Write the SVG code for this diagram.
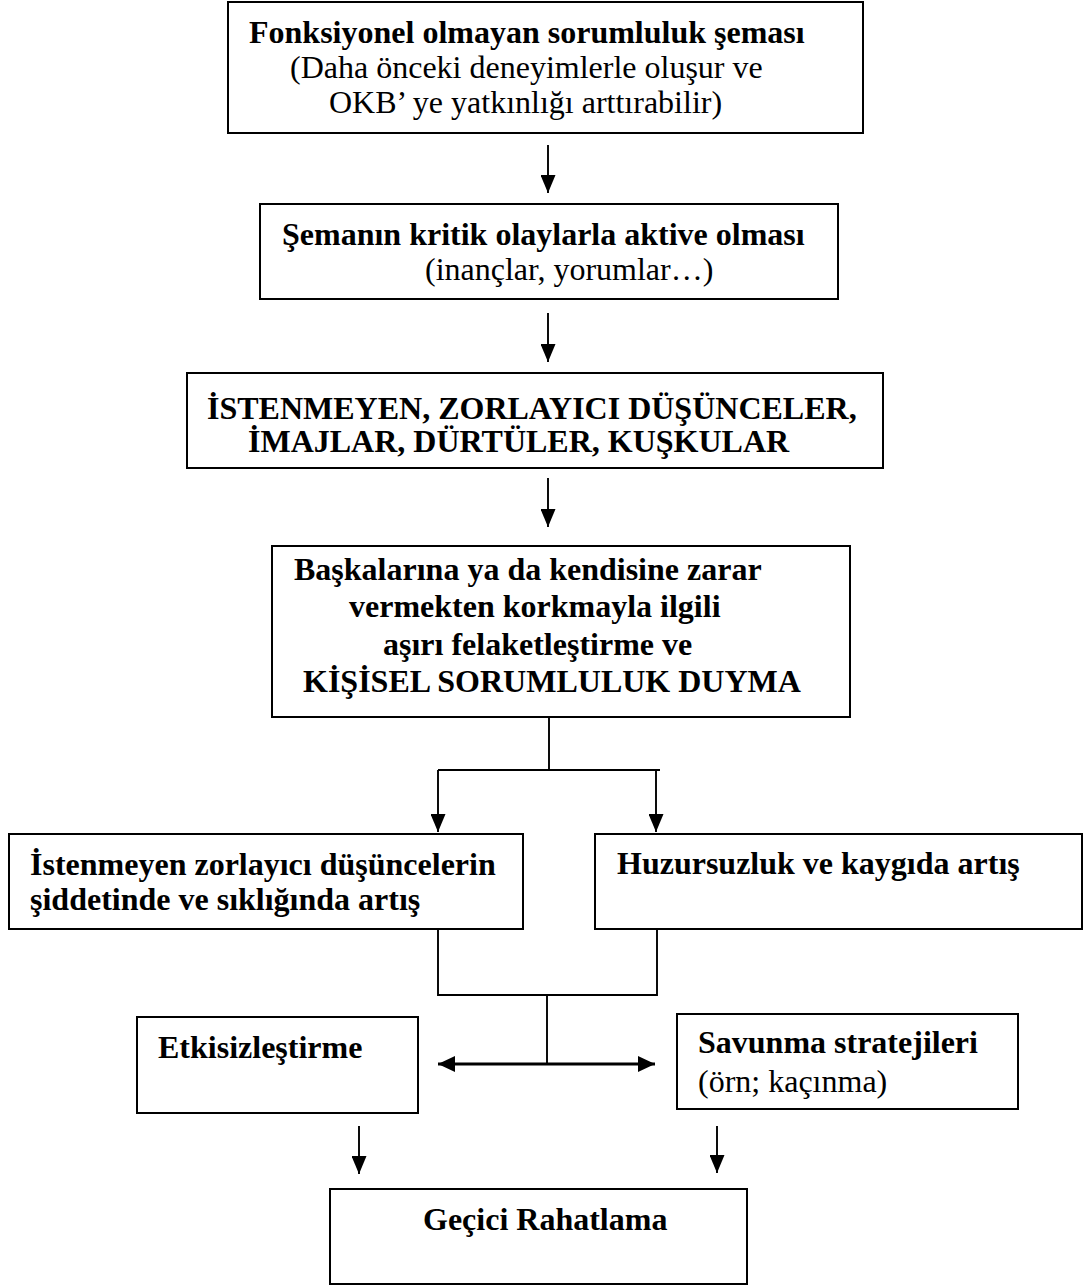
<svg xmlns="http://www.w3.org/2000/svg" width="1083" height="1285" viewBox="0 0 1083 1285">
  <style>
    .box { fill: #ffffff; stroke: #000000; stroke-width: 2; }
    .t { font-family: "Liberation Serif", "Times New Roman", serif; font-size: 32px; fill: #000000; }
    .b { font-weight: bold; }
    .c { fill: none; stroke: #000000; stroke-width: 1.9; }
    .a { marker-end: url(#ah); }
    .dbl { fill: none; stroke: #000000; stroke-width: 3.2; marker-start: url(#ah2); marker-end: url(#ah2); }
  </style>
  <defs>
    <marker id="ah" markerUnits="userSpaceOnUse" markerWidth="18" markerHeight="15" refX="18" refY="7.5" orient="auto">
      <path d="M0,0 L18,7.5 L0,15 Z" fill="#000000"/>
    </marker>
    <marker id="ah2" markerUnits="userSpaceOnUse" markerWidth="17" markerHeight="16" refX="17" refY="8" orient="auto-start-reverse">
      <path d="M0,0 L17,8 L0,16 Z" fill="#000000"/>
    </marker>
  </defs>
  <rect width="1083" height="1285" fill="#ffffff"/>

  <g id="connectors">
    <line class="c a" x1="548" y1="145" x2="548" y2="193"/>
    <line class="c a" x1="548" y1="313" x2="548" y2="362"/>
    <line class="c a" x1="548" y1="478" x2="548" y2="527"/>
    <line class="c" x1="549" y1="717" x2="549" y2="770"/>
    <line class="c" x1="438" y1="770" x2="660" y2="770"/>
    <line class="c a" x1="438" y1="770" x2="438" y2="832"/>
    <line class="c a" x1="656" y1="770" x2="656" y2="832"/>
    <polyline class="c" points="438,929 438,995 657,995 657,929"/>
    <line class="c" x1="547" y1="995" x2="547" y2="1064"/>
    <line class="dbl" x1="438" y1="1064" x2="655" y2="1064"/>
    <line class="c a" x1="359" y1="1126" x2="359" y2="1174"/>
    <line class="c a" x1="717" y1="1126" x2="717" y2="1173"/>
  </g>

  <g id="n1">
    <rect class="box" x="228" y="2" width="635" height="131"/>
    <text class="t b" x="249" y="43">Fonksiyonel olmayan sorumluluk şeması</text>
    <text class="t" x="290" y="78">(Daha önceki deneyimlerle oluşur ve</text>
    <text class="t" x="329" y="113">OKB’ ye yatkınlığı arttırabilir)</text>
  </g>

  <g id="n2">
    <rect class="box" x="260" y="204" width="578" height="95"/>
    <text class="t b" x="282" y="245">Şemanın kritik olaylarla aktive olması</text>
    <text class="t" x="425" y="280">(inançlar, yorumlar…)</text>
  </g>

  <g id="n3">
    <rect class="box" x="187" y="373" width="696" height="95"/>
    <text class="t b" x="207" y="419">İSTENMEYEN, ZORLAYICI DÜŞÜNCELER,</text>
    <text class="t b" x="248" y="452">İMAJLAR, DÜRTÜLER, KUŞKULAR</text>
  </g>

  <g id="n4">
    <rect class="box" x="272" y="546" width="578" height="171"/>
    <text class="t b" x="294" y="580">Başkalarına ya da kendisine zarar</text>
    <text class="t b" x="349" y="617">vermekten korkmayla ilgili</text>
    <text class="t b" x="383" y="655">aşırı felaketleştirme ve</text>
    <text class="t b" x="303" y="692">KİŞİSEL SORUMLULUK DUYMA</text>
  </g>

  <g id="n5">
    <rect class="box" x="9" y="834" width="514" height="95"/>
    <text class="t b" x="30" y="875">İstenmeyen zorlayıcı düşüncelerin</text>
    <text class="t b" x="30" y="910">şiddetinde ve sıklığında artış</text>
  </g>

  <g id="n6">
    <rect class="box" x="595" y="834" width="487" height="95"/>
    <text class="t b" x="617" y="874">Huzursuzluk ve kaygıda artış</text>
  </g>

  <g id="n7">
    <rect class="box" x="137" y="1017" width="281" height="96"/>
    <text class="t b" x="158" y="1058">Etkisizleştirme</text>
  </g>

  <g id="n8">
    <rect class="box" x="677" y="1014" width="341" height="95"/>
    <text class="t b" x="698" y="1053">Savunma stratejileri</text>
    <text class="t" x="698" y="1092">(örn; kaçınma)</text>
  </g>

  <g id="n9">
    <rect class="box" x="330" y="1189" width="417" height="95"/>
    <text class="t b" x="423" y="1230">Geçici Rahatlama</text>
  </g>
</svg>
